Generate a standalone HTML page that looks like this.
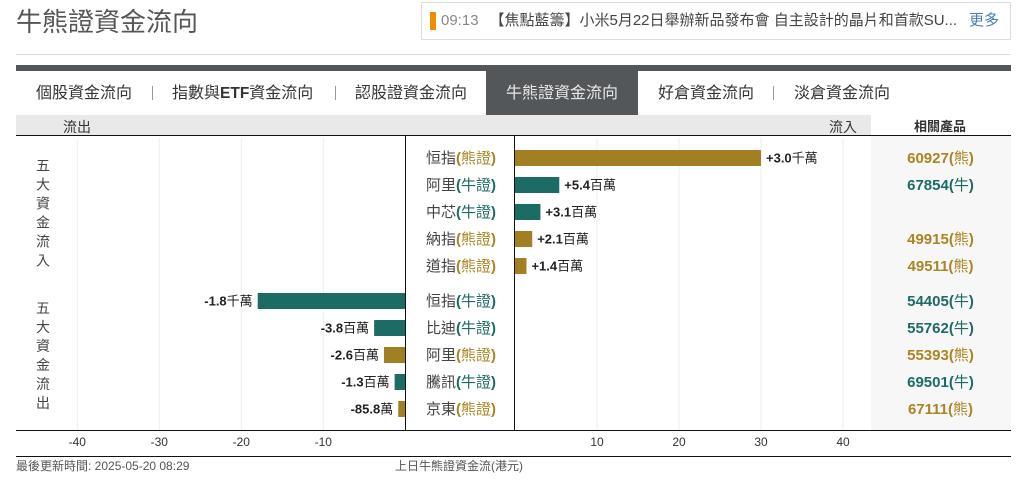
<!DOCTYPE html>
<html lang="zh-Hant">
<head>
<meta charset="utf-8">
<title>牛熊證資金流向</title>
<style>
html,body{margin:0;padding:0;background:#fff;}
body{width:1021px;height:481px;position:relative;overflow:hidden;font-family:"Liberation Sans","Noto Sans CJK TC",sans-serif;color:#444;}
.a{position:absolute;white-space:nowrap;}
.tab{position:absolute;top:73px;height:42px;line-height:42px;font-size:16px;color:#333;white-space:nowrap;}
.sep{position:absolute;top:86px;width:1px;height:14px;background:#999;}
svg{position:absolute;left:0;top:0;}
svg text{font-family:"Liberation Sans","Noto Sans CJK TC",sans-serif;}
</style>
</head>
<body>
<div class="a" style="left:16px;top:3px;font-size:26px;line-height:38px;color:#555;">牛熊證資金流向</div>
<div class="a" style="left:421px;top:2px;width:588px;height:36px;border:1px solid #ddd;"></div>
<div class="a" style="left:430px;top:12px;width:6px;height:18px;background:#ef8c00;"></div>
<div class="a" style="left:441px;top:11px;font-size:15px;line-height:20px;color:#888;">09:13</div>
<div class="a" style="left:489.5px;top:11px;font-size:15px;line-height:20px;color:#444;">【焦點藍籌】小米5月22日舉辦新品發布會 自主設計的晶片和首款SU...</div>
<div class="a" style="left:969px;top:11px;font-size:15px;line-height:20px;color:#4a7db8;">更多</div>
<div class="a" style="left:16px;top:54px;width:995px;height:1px;background:#ddd;"></div>
<div class="a" style="left:16px;top:65px;width:995px;height:6px;background:#54575a;"></div>
<div class="a" style="left:486px;top:71px;width:152px;height:44px;background:#54575a;"></div>
<div class="tab" style="left:36px;">個股資金流向</div>
<div class="sep" style="left:152px;"></div>
<div class="tab" style="left:172px;">指數與<b style="font-size:15.5px;">ETF</b>資金流向</div>
<div class="sep" style="left:335px;"></div>
<div class="tab" style="left:355px;">認股證資金流向</div>
<div class="tab" style="left:506px;color:#e8e8e8;">牛熊證資金流向</div>
<div class="tab" style="left:658px;">好倉資金流向</div>
<div class="sep" style="left:773px;"></div>
<div class="tab" style="left:794px;">淡倉資金流向</div>
<div class="a" style="left:16px;top:115px;width:855px;height:20px;background:#e9e9e9;"></div>
<div class="a" style="left:871px;top:136px;width:140px;height:294px;background:#f7f7f7;"></div>
<div class="a" style="left:63px;top:117px;font-size:14px;line-height:20px;color:#333;">流出</div>
<div class="a" style="left:829px;top:117px;font-size:14px;line-height:20px;color:#333;">流入</div>
<div class="a" style="left:914px;top:117px;font-size:13px;line-height:20px;font-weight:bold;color:#333;">相關產品</div>
<div class="a" style="left:16px;top:458px;font-size:12px;line-height:16px;color:#555;">最後更新時間: 2025-05-20 08:29</div>
<div class="a" style="left:395px;top:458px;font-size:12px;line-height:16px;color:#555;">上日牛熊證資金流(港元)</div>

<svg id="chart" width="1021" height="481" viewBox="0 0 1021 481"></svg>

<script>
// Chart data: net flow in millions of HKD
const inflowNames = ['恒指', '阿里', '中芯', '納指', '道指'];
const inflowTypes = ['熊證', '牛證', '牛證', '熊證', '熊證'];
const inflowValues = [30, 5.4, 3.1, 2.1, 1.4];
const inflowLabels = ['+3.0千萬', '+5.4百萬', '+3.1百萬', '+2.1百萬', '+1.4百萬'];
const inflowProducts = ['60927(熊)', '67854(牛)', '', '49915(熊)', '49511(熊)'];

const outflowNames = ['恒指', '比迪', '阿里', '騰訊', '京東'];
const outflowTypes = ['牛證', '牛證', '熊證', '牛證', '熊證'];
const outflowValues = [-18, -3.8, -2.6, -1.3, -0.858];
const outflowLabels = ['-1.8千萬', '-3.8百萬', '-2.6百萬', '-1.3百萬', '-85.8萬'];
const outflowProducts = ['54405(牛)', '55762(牛)', '55393(熊)', '69501(牛)', '67111(熊)'];

const leftTicks = [-40, -30, -20, -10];
const rightTicks = [10, 20, 30, 40];
const inflowTitle = ['五', '大', '資', '金', '流', '入'];
const outflowTitle = ['五', '大', '資', '金', '流', '出'];

const BULL = '#1d6b65';
const BEAR = '#a37f23';
const BEAR_TEXT = '#ab8524';
const PX_PER_UNIT = 8.2;
const svg = document.getElementById('chart');
const NS = 'http://www.w3.org/2000/svg';

function xLeft(v) { return 405.3 + v * PX_PER_UNIT; }
function xRight(v) { return 515 + v * PX_PER_UNIT; }
function yIn(i) { return 150 + i * 27; }
function yOut(i) { return 293 + i * 27; }
function typeColor(t) { return t.indexOf('牛') >= 0 ? BULL : BEAR; }
function textColor(t) { return t.indexOf('牛') >= 0 ? BULL : BEAR_TEXT; }

function node(tag, attrs, parent) {
  const el = document.createElementNS(NS, tag);
  for (const k in attrs) el.setAttribute(k, attrs[k]);
  (parent || svg).appendChild(el);
  return el;
}
function span(parent, str, attrs) {
  const t = node('tspan', attrs || {}, parent);
  t.textContent = str;
  return t;
}

// gridlines
leftTicks.forEach(function (v) {
  const g = node('line', { x1: xLeft(v), x2: xLeft(v), y1: 138, y2: 430, stroke: '#eeeeee', 'stroke-width': 1 });
  
  
  const t = node('text', { x: xLeft(v), y: 446, 'text-anchor': 'middle', 'font-size': 12, fill: '#333' });
  t.textContent = v;
  
  
});
rightTicks.forEach(function (v) {
  const g = node('line', { x1: xRight(v), x2: xRight(v), y1: 138, y2: 430, stroke: '#eeeeee', 'stroke-width': 1 });
  
  
  const t = node('text', { x: xRight(v), y: 446, 'text-anchor': 'middle', 'font-size': 12, fill: '#333' });
  t.textContent = v;
  
  
});

function rowText(name, type, product, midY) {
  const label = node('text', { x: 426, y: midY + 5, 'font-size': 15, fill: '#444' });
  
  
  span(label, name);
  const c = textColor(type);
  span(label, '(', { fill: c, 'font-weight': 'bold' });
  span(label, type, { fill: c });
  span(label, ')', { fill: c, 'font-weight': 'bold' });
  if (product) {
    const pc = textColor(product);
    const p = node('text', { x: 940.5, y: midY + 5, 'text-anchor': 'middle', 'font-size': 15, fill: pc, 'font-weight': 'bold' });
    
    
    const m = product.match(/^(\d+\()(.)(\))$/);
    span(p, m[1]);
    span(p, m[2], { 'font-weight': 'normal' });
    span(p, m[3]);
  }
}
function valueText(str, x, midY, anchor) {
  const t = node('text', { x: x, y: midY + 4.5, 'text-anchor': anchor, 'font-size': 13, fill: '#222' });
  
  
  const m = str.match(/^([+\-\d.]+)(.*)$/);
  span(t, m[1], { 'font-weight': 'bold' });
  span(t, m[2]);
}

inflowValues.forEach(function (v, i) {
  const y = yIn(i);
  const bar = node('rect', { x: xRight(0), y: y, width: xRight(v) - xRight(0), height: 16, fill: typeColor(inflowTypes[i]) });
  
  
  valueText(inflowLabels[i], xRight(v) + 5, y + 8, 'start');
  rowText(inflowNames[i], inflowTypes[i], inflowProducts[i], y + 8);
});
outflowValues.forEach(function (v, i) {
  const y = yOut(i);
  const bar = node('rect', { x: xLeft(v), y: y, width: xLeft(0) - xLeft(v), height: 16, fill: typeColor(outflowTypes[i]) });
  
  
  valueText(outflowLabels[i], xLeft(v) - 5, y + 8, 'end');
  rowText(outflowNames[i], outflowTypes[i], outflowProducts[i], y + 8);
});

inflowTitle.forEach(function (c, i) {
  const t = node('text', { x: 43, y: 170.5 + i * 19, 'text-anchor': 'middle', 'font-size': 14, fill: '#444' });
  t.textContent = c;
  
  
});
outflowTitle.forEach(function (c, i) {
  const t = node('text', { x: 43, y: 313 + i * 19, 'text-anchor': 'middle', 'font-size': 14, fill: '#444' });
  t.textContent = c;
  
  
});

// axis frame lines
[[16, 135.5, 1011, 135.5, 'chart-top-line'],
 [16, 430.5, 1011, 430.5, 'x-axis-line'],
 [16, 456.5, 1011, 456.5, 'chart-footer-line'],
 [405.5, 135, 405.5, 431, 'left-zero-axis'],
 [514.5, 135, 514.5, 431, 'right-zero-axis']].forEach(function (l) {
  const el = node('line', { x1: l[0], y1: l[1], x2: l[2], y2: l[3], stroke: '#111', 'stroke-width': 1 });
  
  
});
</script>
</body>
</html>
